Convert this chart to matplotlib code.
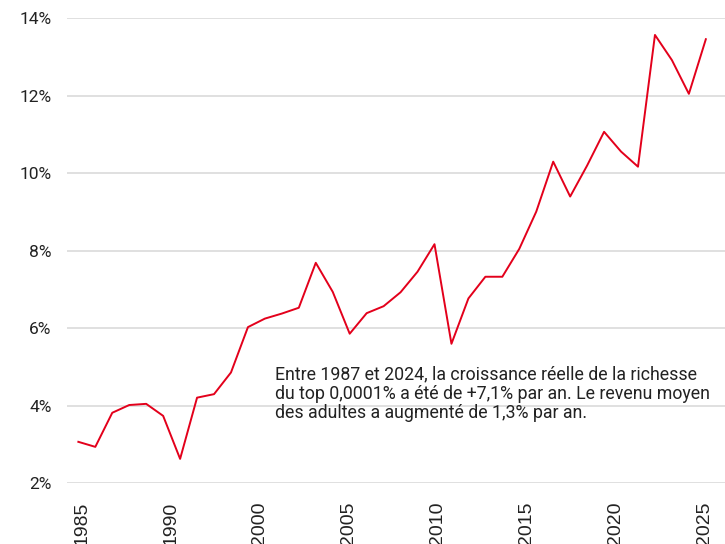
import numpy as np
import matplotlib
matplotlib.use('Agg')
import matplotlib.pyplot as plt

# croissance annuelle, top 0,0001%
years = list(range(1987, 2025))
values = [3.07, 2.94, 3.82, 4.02, 4.05, 3.74, 2.63, 4.21, 4.30, 4.86,
          6.03, 6.25, 6.38, 6.53, 7.69, 6.94, 5.86, 6.39, 6.57, 6.93,
          7.46, 8.17, 5.60, 6.77, 7.33, 7.33, 8.05, 9.01, 10.30, 9.40,
          10.20, 11.07, 10.56, 10.17, 13.57, 12.92, 12.05, 13.46]

x_labels = ['1985', '1990', '2000', '2005', '2010', '2015', '2020', '2025']
y_ticks = [2, 4, 6, 8, 10, 12, 14]

note = ("Entre 1987 et 2024, la croissance réelle de la richesse\n"
        "du top 0,0001% a été de +7,1% par an. Le revenu moyen\n"
        "des adultes a augmenté de 1,3% par an.")

fig = plt.figure(figsize=(7.25, 5.44), dpi=100, facecolor='white')
ax = fig.add_axes([0.0924, 0.1116, 0.9076, 0.8548])

ax.plot(years, values, color='#e3001b', lw=1.4, clip_on=False, zorder=3)

ax.set_xlim(1986.33, 2025.13)
ax.set_ylim(2, 14)

ax.set_yticks(y_ticks)
ax.set_yticklabels(['%d%%' % v for v in y_ticks], family='Roboto',
                   fontsize=12.5, color='#222222')
ax.set_xticks(np.linspace(1987.2, 2023.9, len(x_labels)))
ax.set_xticklabels(x_labels, rotation=90, family='Liberation Sans',
                   fontsize=14, color='#222222', va='top')

ax.grid(True, axis='y', color='#dddddd', lw=1.3)
ax.set_axisbelow(True)
ax.tick_params(axis='both', length=0)
ax.tick_params(axis='y', pad=11)
ax.tick_params(axis='x', pad=13)
for s in ax.spines.values():
    s.set_visible(False)

fig.text(0.379, 0.328, note, family='Roboto', fontsize=12.8, color='#222222',
         va='top', ha='left', linespacing=1.07)

fig.savefig('out.png', dpi=100)
